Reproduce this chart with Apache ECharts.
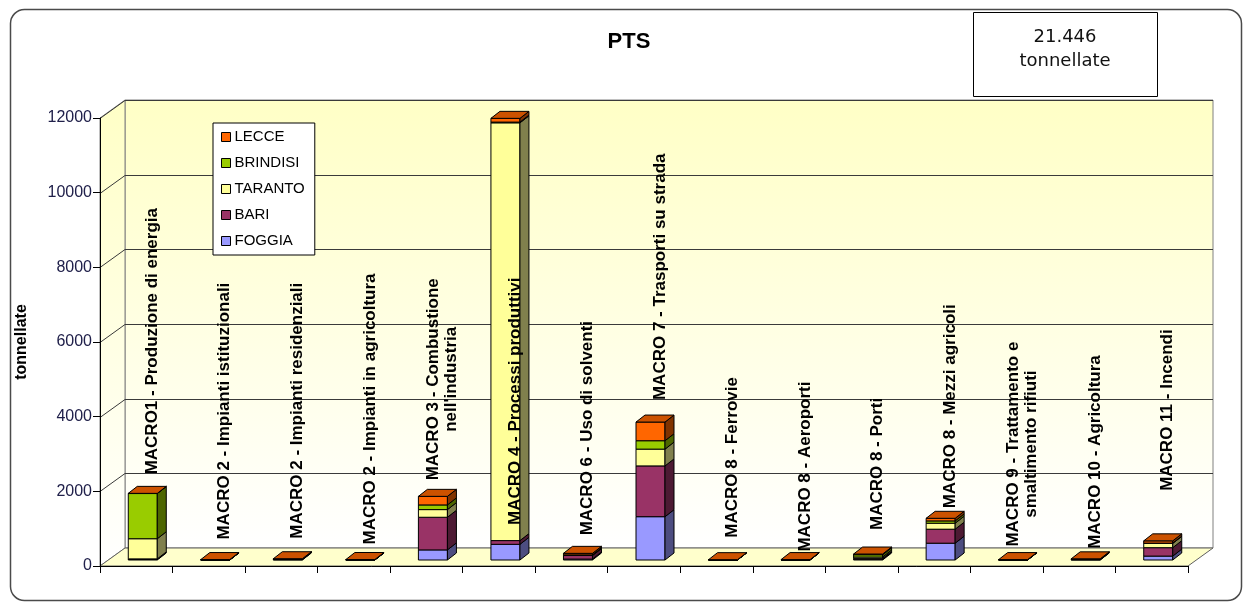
<!DOCTYPE html>
<html>
<head>
<meta charset="utf-8">
<script src="https://cdn.jsdelivr.net/npm/echarts@6/dist/echarts.min.js"></script>
<style>
  html, body { margin: 0; padding: 0; background: #ffffff; }
  #chart { width: 1247px; height: 603px; }
</style>
</head>
<body>
<div id="chart"></div>
<script>
// ---- data (tonnellate of PTS per macrosettore and provincia) ----
const categories = [
  'MACRO1 - Produzione di energia',
  'MACRO 2 - Impianti istituzionali',
  'MACRO 2 - Impianti residenziali',
  'MACRO 2 - Impianti in agricoltura',
  "MACRO 3 - Combustione\nnell'industria",
  'MACRO 4 - Processi produttivi',
  'MACRO 6 - Uso di solventi',
  'MACRO 7 - Trasporti su strada',
  'MACRO 8 - Ferrovie',
  'MACRO 8 - Aeroporti',
  'MACRO 8 - Porti',
  'MACRO 8 - Mezzi agricoli',
  'MACRO 9 - Trattamento e\nsmaltimento rifiuti',
  'MACRO 10 - Agricoltura',
  'MACRO 11 - Incendi'
];
const foggia   = [15, 2, 8, 2, 270, 420, 25, 1160, 3, 2, 20, 450, 3, 5, 105];
const bari     = [15, 3, 10, 3, 875, 100, 95, 1360, 2, 3, 25, 375, 2, 8, 225];
const taranto  = [540, 2, 5, 2, 205, 11190, 10, 450, 1, 2, 35, 160, 2, 4, 115];
const brindisi = [1210, 2, 5, 4, 125, 20, 8, 225, 1, 2, 60, 62, 2, 6, 8];
const lecce    = [5, 3, 6, 2, 230, 100, 40, 500, 2, 2, 20, 70, 2, 8, 60];
const provinceNames = ['FOGGIA', 'BARI', 'TARANTO', 'BRINDISI', 'LECCE'];
const legendOrder = ['LECCE', 'BRINDISI', 'TARANTO', 'BARI', 'FOGGIA'];
const yTickLabels = ['0', '2000', '4000', '6000', '8000', '10000', '12000'];
const yMin = 0;
const yMax = 12000;
const yStep = 2000;
const chartTitle = 'PTS';
const totalValue = '21.446';
const totalUnit = 'tonnellate';
const yAxisName = 'tonnellate';

// ---- look ----
const provinceData = [foggia, bari, taranto, brindisi, lecce];
const faceColors = ['#9999FF', '#993366', '#FFFF99', '#99CC00', '#FF6600'];
const sideColors = ['#4D4D80', '#4D1A33', '#80804D', '#4D6600', '#803300'];
const capColor = '#CC5200';

const WALL_DX = 25, WALL_DY = -18;      // depth of the chart box
const BAR_LEFT = -8, BAR_FRAC = 0.4;     // front face placement within a category band
const BAR_SHIFT_Y = -6;                  // bars stand a little back on the floor
const BAR_DX = 9, BAR_DY = -7;           // depth of each bar
const LABEL_DX = 16;
const LABEL_FONT = 'bold 17px "Liberation Sans", Arial, sans-serif';
const labelGap = [19, 20, 20, 15, 16, 20, 18, 22, 22, 8, 24, 10, 13, 10, 50];
const INSIDE_LIFT = 35;
const GRID_TOP = 118;

const measureCtx = document.createElement('canvas').getContext('2d');
measureCtx.font = LABEL_FONT;
function textWidth(s) { return measureCtx.measureText(s).width; }

// cumulative stacks
const stackBase = categories.map(() => 0);
const barSeries = provinceData.map((vals, s) => {
  const data = vals.map((v, i) => {
    const b = stackBase[i];
    stackBase[i] += v;
    return [i, b, b + v];
  });
  return {
    type: 'custom',
    name: provinceNames[s],
    z: 2,
    itemStyle: { color: faceColors[s], borderColor: '#000', borderWidth: 1 },
    encode: { x: 0, y: 2 },
    data: data,
    renderItem: function (params, api) {
      const ci = api.value(0), base = api.value(1), top = api.value(2);
      const pb = api.coord([ci, base]);
      const pt = api.coord([ci, top]);
      const band = api.size([1, 0])[0];
      const L = pb[0] + BAR_LEFT, R = L + band * BAR_FRAC;
      const yb = pb[1] + BAR_SHIFT_Y, yt = pt[1] + BAR_SHIFT_Y;
      const stroke = { stroke: '#000', lineWidth: 1 };
      const children = [
        { type: 'polygon', shape: { points: [[L, yb], [R, yb], [R, yt], [L, yt]] },
          style: Object.assign({ fill: faceColors[s] }, stroke) },
        { type: 'polygon', shape: { points: [[R, yb], [R + BAR_DX, yb + BAR_DY], [R + BAR_DX, yt + BAR_DY], [R, yt]] },
          style: Object.assign({ fill: sideColors[s] }, stroke) }
      ];
      if (s === provinceData.length - 1) {
        children.push({ type: 'polygon',
          shape: { points: [[L, yt], [R, yt], [R + BAR_DX, yt + BAR_DY], [L + BAR_DX, yt + BAR_DY]] },
          style: Object.assign({ fill: capColor }, stroke) });
      }
      return { type: 'group', children: children };
    }
  };
});

const totals = stackBase.slice();

// back wall, side wall, floor and gridlines
const wallSeries = {
  type: 'custom',
  name: 'walls',
  z: 1,
  silent: true,
  data: [[0, 0]],
  renderItem: function (params, api) {
    const origin = api.coord([0, yMin]);
    const band = api.size([1, 0])[0];
    const x0 = origin[0] - band / 2;
    const x1 = x0 + band * categories.length;
    const y0 = origin[1];
    const yT = api.coord([0, yMax])[1];
    const grad = new echarts.graphic.LinearGradient(0, 0, 0, 1, [
      { offset: 0, color: '#FFFFC6' }, { offset: 1, color: '#FFFFFF' }
    ]);
    const children = [
      { type: 'polygon', shape: { points: [[x0 + WALL_DX, yT + WALL_DY], [x1 + WALL_DX, yT + WALL_DY], [x1 + WALL_DX, y0 + WALL_DY], [x0 + WALL_DX, y0 + WALL_DY]] },
        style: { fill: grad, stroke: '#808080', lineWidth: 1 } },
      { type: 'polygon', shape: { points: [[x0, y0], [x0 + WALL_DX, y0 + WALL_DY], [x0 + WALL_DX, yT + WALL_DY], [x0, yT]] },
        style: { fill: grad, stroke: '#808080', lineWidth: 1 } },
      { type: 'polygon', shape: { points: [[x0, y0], [x1, y0], [x1 + WALL_DX, y0 + WALL_DY], [x0 + WALL_DX, y0 + WALL_DY]] },
        style: { fill: '#FFFFCC', stroke: '#606060', lineWidth: 1 } }
    ];
    for (let v = yMin + yStep; v <= yMax; v += yStep) {
      const y = Math.round(api.coord([0, v])[1]) + 0.5;
      children.push({ type: 'polyline', shape: { points: [[x0, y], [x0 + WALL_DX, y + WALL_DY], [x1 + WALL_DX, y + WALL_DY]] },
        style: { fill: null, stroke: '#3a3a3a', lineWidth: 1 } });
    }
    return { type: 'group', children: children };
  }
};

// rotated category names above each stack
const labelSeries = {
  type: 'custom',
  name: 'labels',
  z: 3,
  silent: true,
  data: totals.map((t, i) => [i, t]),
  renderItem: function (params, api) {
    const ci = api.value(0), total = api.value(1);
    const pt = api.coord([ci, total]);
    const text = categories[ci];
    const w = Math.max.apply(null, text.split('\n').map(textWidth));
    let bottom = pt[1] + BAR_SHIFT_Y - labelGap[ci];
    if (bottom - w < GRID_TOP - 10) {
      bottom = api.coord([ci, yMin])[1] + BAR_SHIFT_Y - INSIDE_LIFT;
    }
    return {
      type: 'text',
      x: pt[0] + LABEL_DX,
      y: bottom - w / 2,
      rotation: Math.PI / 2,
      style: {
        text: text, x: 0, y: 0,
        align: 'center', verticalAlign: 'middle',
        textAlign: 'center', textVerticalAlign: 'middle',
        font: LABEL_FONT, fill: '#000', lineHeight: 18
      }
    };
  }
};

const chart = echarts.init(document.getElementById('chart'), null, { renderer: 'canvas' });
chart.setOption({
  animation: false,
  backgroundColor: '#ffffff',
  grid: { left: 100, right: 59, top: 118, bottom: 37, containLabel: false },
  legend: {
    data: legendOrder.map(n => ({ name: n, icon: 'rect' })),
    orient: 'vertical',
    left: 213, top: 123,
    padding: [6, 10, 6, 8],
    itemWidth: 9, itemHeight: 9, itemGap: 10,
    backgroundColor: '#ffffff',
    borderColor: '#000', borderWidth: 1,
    selectedMode: false,
    itemStyle: { borderColor: '#000', borderWidth: 1 },
    textStyle: { fontFamily: '"Liberation Sans", Arial, sans-serif', fontSize: 15, color: '#000', lineHeight: 16, padding: [0, 0, 0, -1] }
  },
  xAxis: {
    type: 'category',
    data: categories,
    boundaryGap: true,
    z: 4,
    axisLine: { lineStyle: { color: '#000', width: 1 } },
    axisTick: { show: true, interval: 0, length: 7, lineStyle: { color: '#000' } },
    axisLabel: { show: false, interval: 0 },
    splitLine: { show: false }
  },
  yAxis: {
    type: 'value',
    min: yMin, max: yMax, interval: yStep,
    z: 4,
    name: yAxisName,
    nameLocation: 'middle',
    nameRotate: 90,
    nameGap: 70,
    nameTextStyle: { fontFamily: '"Liberation Sans", Arial, sans-serif', fontSize: 16, fontWeight: 'bold', color: '#000' },
    axisLine: { show: true, lineStyle: { color: '#000', width: 1 } },
    axisTick: { show: true, length: 7, lineStyle: { color: '#000' } },
    axisLabel: {
      fontFamily: '"Liberation Sans", Arial, sans-serif', fontSize: 16, color: '#20204a', margin: 8,
      formatter: function (v) { return yTickLabels[Math.round((v - yMin) / yStep)]; }
    },
    splitLine: { show: false }
  },
  graphic: [
    { type: 'rect', left: 8, top: 7, shape: { width: 1231, height: 591, r: 14 },
      style: { fill: null, stroke: '#4a4a4a', lineWidth: 1.5 }, z: 0, silent: true },
    { type: 'text', x: 629, y: 42, style: { text: chartTitle, font: 'bold 22px "Liberation Sans", Arial, sans-serif',
      fill: '#000', align: 'center', verticalAlign: 'middle', textAlign: 'center', textVerticalAlign: 'middle' }, z: 10 },
    { type: 'rect', shape: { x: 973.5, y: 12.5, width: 184, height: 84 },
      style: { fill: '#fff', stroke: '#000', lineWidth: 1 }, z: 10, silent: true },
    { type: 'text', x: 1065, y: 37, style: { text: totalValue, font: '18px "DejaVu Sans", sans-serif',
      fill: '#111', align: 'center', verticalAlign: 'middle', textAlign: 'center', textVerticalAlign: 'middle' }, z: 11 },
    { type: 'text', x: 1065, y: 61, style: { text: totalUnit, font: '18px "DejaVu Sans", sans-serif',
      fill: '#111', align: 'center', verticalAlign: 'middle', textAlign: 'center', textVerticalAlign: 'middle' }, z: 11 }
  ],
  series: [wallSeries].concat(barSeries, [labelSeries])
});
</script>
</body>
</html>
